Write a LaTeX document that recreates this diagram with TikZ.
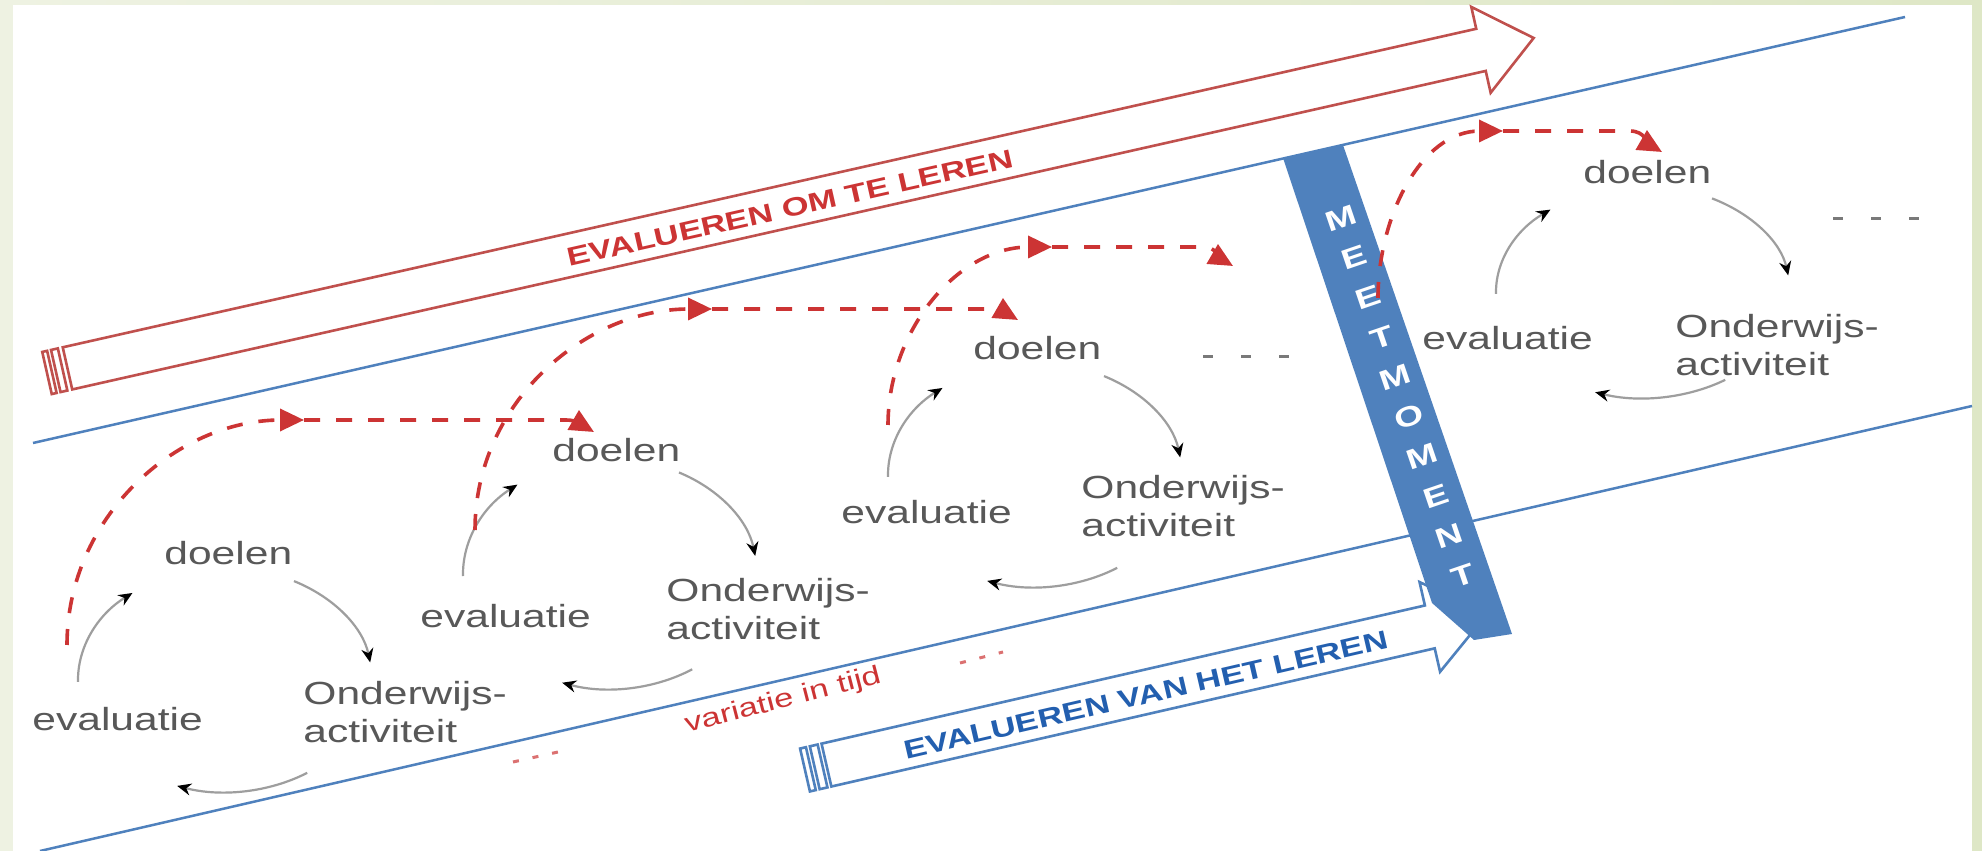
\documentclass[tikz,border=0pt]{standalone}
\usepackage{fontspec}
\setmainfont{Liberation Sans}
\newfontfamily\widesf[FakeStretch=1.33]{Liberation Sans}
\usetikzlibrary{arrows.meta,positioning,calc}

\definecolor{frameleft}{RGB}{238,242,226}
\definecolor{frameright}{RGB}{222,231,198}
\definecolor{evred}{RGB}{192,80,77}
\definecolor{dashred}{RGB}{204,52,52}
\definecolor{evblue}{RGB}{79,129,189}
\definecolor{textblue}{RGB}{35,95,175}
\definecolor{txtgray}{RGB}{88,88,88}
\definecolor{arcgray}{RGB}{158,158,158}

\tikzset{
  lbl/.style={font=\widesf\fontsize{16}{19}\selectfont, text=txtgray, inner sep=0pt, anchor=west},
  cycarc/.style={draw=arcgray, line width=1.1pt, -{Stealth[length=7pt,width=6pt,color=black]}},
  evalline/.style={draw=dashred, line width=1.8pt, dash pattern=on 8pt off 8pt},
  evaltip/.style={-{Triangle[length=12pt,width=11pt]}},
  bigarrow/.style={line width=1.3pt, line join=miter},
  moredots/.style={draw=txtgray!80, line width=1.5pt, dash pattern=on 5pt off 14pt},
  reddots/.style={draw=dashred!70, line width=1.5pt, dash pattern=on 3pt off 7pt},
}

\begin{document}
\begin{tikzpicture}[x=0.5pt,y=0.5pt]
% frame
\shade[left color=frameleft, right color=frameright] (0,0) rectangle (1982,851);
\fill[white] (13,0) rectangle (1972,846);
\useasboundingbox (0,0) rectangle (1982,851);

% blue border lines
\draw[evblue, line width=1.25pt] (33,408) -- (1905,834);
\draw[evblue, line width=1.25pt] (40,0) -- (1972,445);

% red striped arrow
\begin{scope}[shift={(47,478)}, rotate=12.7]
\draw[bigarrow, evred] (0,-21.6) rectangle (5,21.6);
\draw[bigarrow, evred] (9,-21.6) rectangle (16,21.6);
\draw[bigarrow, evred] (21,-21.6) -- (1470,-21.6) -- (1470,-44) -- (1524,0) -- (1470,44) -- (1470,21.6) -- (21,21.6) -- cycle;
\end{scope}
\node[font=\widesf\bfseries\fontsize{13}{15}\selectfont, text=dashred, rotate=12.7] (omleren) at (790,643) {EVALUEREN OM TE LEREN};

% blue striped arrow
\begin{scope}[shift={(805,81)}, rotate=12.9]
\draw[bigarrow, evblue] (0,-22) rectangle (6,22);
\draw[bigarrow, evblue] (10,-22) rectangle (18,22);
\draw[bigarrow, evblue] (22,-22) -- (641,-22) -- (641,-46) -- (700,0) -- (641,46) -- (641,22) -- (22,22) -- cycle;
\end{scope}
\node[font=\widesf\bfseries\fontsize{13}{15}\selectfont, text=textblue, rotate=13] (vanleren) at (1146,156) {EVALUEREN VAN HET LEREN};

% meetmoment band
\fill[evblue] (1283,693) -- (1343,706) -- (1512,217) -- (1474,211) -- (1432,248) -- cycle;
\node[text=white, font=\widesf\bfseries\fontsize{14}{21}\selectfont, align=center, inner sep=0pt, rotate=18.8] (meet) at (1402,454) {M\\E\\E\\T\\M\\O\\M\\E\\N\\T};

% cycle 1
\begin{scope}[shift={(225,171)}]
\coordinate (c1) at (0,0);
\node[lbl] (d1) at (-61,127) {doelen};
\node[lbl, align=left] (o1) at (78,-32) {Onderwijs-\\activiteit};
\node[lbl] (e1) at (-193,-39) {evaluatie};
\draw[cycarc] (c1) ++(62:147 and 112) arc[start angle=62, end angle=9, x radius=147, y radius=112];
\draw[cycarc] (c1) ++(-56:147 and 112) arc[start angle=-56, end angle=-109, x radius=147, y radius=112];
\draw[cycarc] (c1) ++(181:147 and 112) arc[start angle=181, end angle=129, x radius=147, y radius=112];
\end{scope}

% cycle 2
\begin{scope}[shift={(610,277)}]
\coordinate (c2) at (0,0);
\node[lbl] (d2) at (-58,124) {doelen};
\node[lbl, align=left] (o2) at (56,-35) {Onderwijs-\\activiteit};
\node[lbl] (e2) at (-190,-42) {evaluatie};
\draw[cycarc] (c2) ++(62:147 and 115) arc[start angle=62, end angle=9, x radius=147, y radius=115];
\draw[cycarc] (c2) ++(-56:147 and 115) arc[start angle=-56, end angle=-109, x radius=147, y radius=115];
\draw[cycarc] (c2) ++(181:147 and 115) arc[start angle=181, end angle=129, x radius=147, y radius=115];
\end{scope}

% cycle 3
\begin{scope}[shift={(1035,376)}]
\coordinate (c3) at (0,0);
\node[lbl] (d3) at (-62,127) {doelen};
\node[lbl, align=left] (o3) at (46,-31) {Onderwijs-\\activiteit};
\node[lbl] (e3) at (-194,-37) {evaluatie};
\draw[cycarc] (c3) ++(62:147 and 112) arc[start angle=62, end angle=9, x radius=147, y radius=112];
\draw[cycarc] (c3) ++(-56:147 and 112) arc[start angle=-56, end angle=-109, x radius=147, y radius=112];
\draw[cycarc] (c3) ++(181:147 and 112) arc[start angle=181, end angle=129, x radius=147, y radius=112];
\end{scope}

% cycle 4
\begin{scope}[shift={(1643,559)}]
\coordinate (c4) at (0,0);
\node[lbl] (d4) at (-60,120) {doelen};
\node[lbl, align=left] (o4) at (32,-53) {Onderwijs-\\activiteit};
\node[lbl] (e4) at (-221,-46) {evaluatie};
\draw[cycarc] (c4) ++(62:147 and 106) arc[start angle=62, end angle=9, x radius=147, y radius=106];
\draw[cycarc] (c4) ++(-56:147 and 106) arc[start angle=-56, end angle=-109, x radius=147, y radius=106];
\draw[cycarc] (c4) ++(181:147 and 106) arc[start angle=181, end angle=129, x radius=147, y radius=106];
\end{scope}

% continuation dots
\draw[moredots] (1203,494) -- (1291,494);
\draw[moredots] (1833,632) -- (1921,632);
\draw[reddots] (513,89) -- (558,99);
\draw[reddots] (960,188) -- (1003,199);
\node[font=\widesf\fontsize{13}{15}\selectfont, text=dashred, rotate=14.5] (tijd) at (783,150) {variatie in tijd};

% evaluation feedback arrows
\coordinate (s1) at (67,206);   \coordinate (m1) at (304,431);
\coordinate (b1) at (566,431);  \coordinate (t1) at (594,419);
\coordinate (s2) at (475,321);  \coordinate (m2) at (712,542);
\coordinate (b2) at (990,542);  \coordinate (t2) at (1018,531);
\coordinate (s3) at (888,426);  \coordinate (m3) at (1052,604);
\coordinate (b3) at (1203,604); \coordinate (t3) at (1233,585);
\coordinate (s4) at (1378,553); \coordinate (m4) at (1503,720);
\coordinate (b4) at (1630,720); \coordinate (t4) at (1662,699);
\foreach \i in {1,...,4} {
  \draw[evalline, evaltip] (s\i) to[out=90, in=180] (m\i);
  \draw[evalline, evaltip] (m\i) -- (b\i) to[out=0, in=150] (t\i);
}
\end{tikzpicture}
\end{document}
